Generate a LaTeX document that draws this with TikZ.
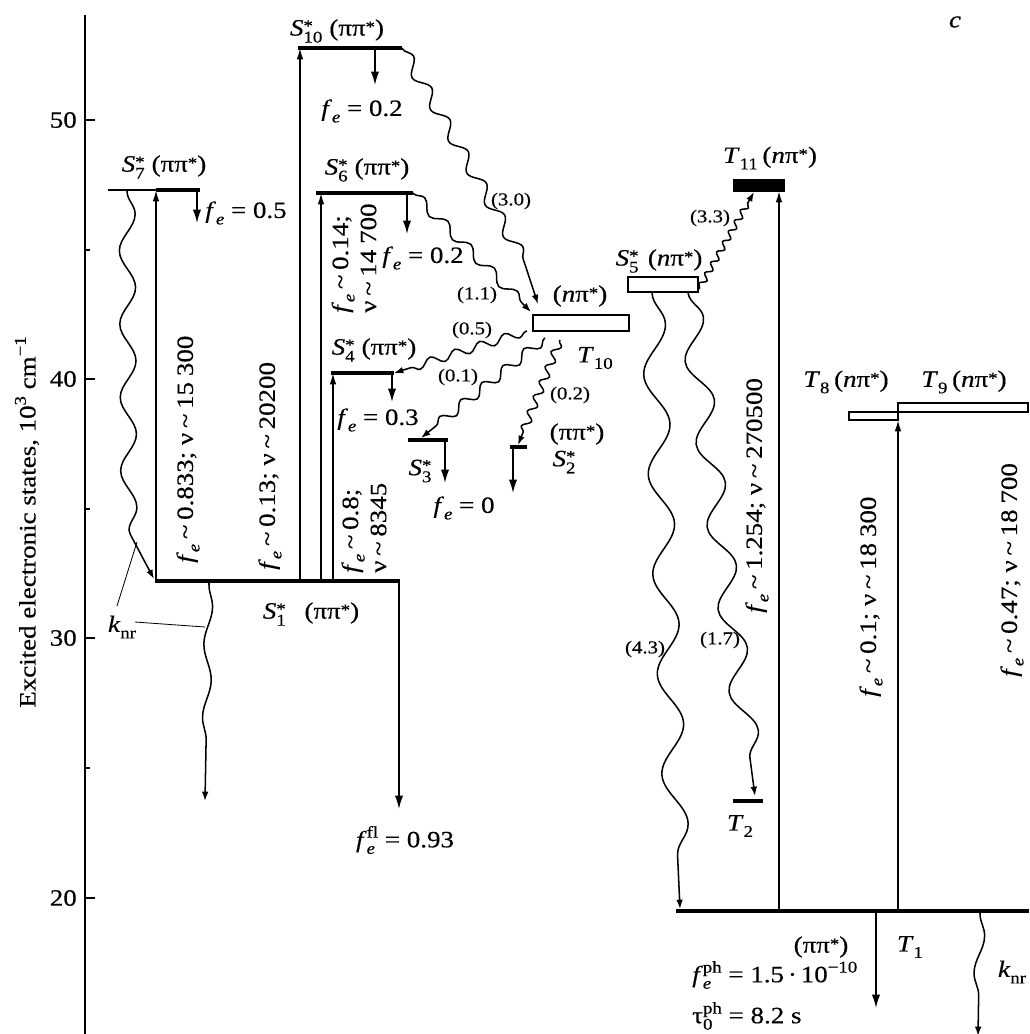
\documentclass[tikz,border=0pt]{standalone}
\usepackage{fontspec}
\setmainfont{Liberation Serif}[FakeStretch=1.15,FakeBold=0.4]
\usetikzlibrary{arrows.meta,decorations.pathmorphing}
\newcommand{\msz}{\fontsize{20}{24}\selectfont}
\newcommand{\ssz}{\fontsize{14}{14}\selectfont}
\newcommand{\smz}{\fontsize{15.5}{17}\selectfont}
\newcommand{\asz}{\fontsize{20}{22}\selectfont}
\newcommand{\lo}[1]{\raisebox{-0.6ex}{\ssz #1}}
\newcommand{\hi}[1]{\raisebox{0.9ex}{\ssz #1}}
\newsavebox\bxa
\newsavebox\bxb
\newcommand{\hilo}[2]{\sbox\bxa{\ssz #1}\sbox\bxb{\ssz #2}%
  \ifdim\wd\bxa>\wd\bxb\rlap{\raisebox{-0.6ex}{\usebox\bxb}}\raisebox{0.9ex}{\usebox\bxa}%
  \else\rlap{\raisebox{0.9ex}{\usebox\bxa}}\raisebox{-0.6ex}{\usebox\bxb}\fi}
\newcommand{\starsub}[1]{\rlap{\raisebox{0.4ex}{\ssz *}}\raisebox{-0.65ex}{\ssz #1}}
\newcommand{\Sst}[1]{\textit{S}\starsub{#1}}
\newcommand{\pst}{\raisebox{0.3ex}{\ssz *}}
\newcommand{\pp}{(ππ\pst)}
\newcommand{\np}{(\textit{n}π\pst)}
\newcommand{\fe}{\textit{f}\lo{\textit{e}}}
\newcommand{\sm}{\hspace{0.2em}\textasciitilde\hspace{0.2em}}
\newcommand{\tsp}{\hspace{0.25em}}
\tikzset{
  lev/.style={line width=2.9pt},
  thinlev/.style={line width=0.9pt},
  box/.style={line width=1.6pt, fill=white},
  arr/.style={line width=1.4pt, -{Latex[length=4mm,width=2.5mm]}},
  uparr/.style={line width=1.4pt, -{Latex[length=3.4mm,width=2mm]}},
  wv/.style 2 args={line width=1.3pt, -{Latex[length=2.8mm,width=2mm]}, decorate,
    decoration={snake, segment length=#1, amplitude=#2, pre length=1pt, post length=2.8mm}},
  lead/.style={line width=0.7pt},
  sml/.style={font=\smz},
  rot/.style={rotate=90, anchor=west, align=left},
}
\begin{document}
\begin{tikzpicture}[x=0.03cm, y=-0.03cm, every node/.style={inner sep=0pt, font=\msz}]
\useasboundingbox (0,0) rectangle (1029,1034);
% axis
\draw[line width=1.8pt] (85,15) -- (85,1034);
\foreach \yy in {120,379,638,898} \draw[line width=1.3pt] (85,\yy) -- (95,\yy);
\foreach \yy in {250,509,768} \draw[line width=1.3pt] (85,\yy) -- (90,\yy);
\node[anchor=east] (t50) at (77,120) {50};
\node[anchor=east] (t40) at (77,379) {40};
\node[anchor=east] (t30) at (77,638) {30};
\node[anchor=east] (t20) at (77,898) {20};
\node[rotate=90, font=\asz] (ax) at (27,522) {Excited electronic states, 10\hi{3} cm\hi{−1}};
\node (lc) at (955,22) {\textit{c}};

% coordinates of levels
\coordinate (s10l) at (298,48);  \coordinate (s10r) at (402,48);
\coordinate (s7t) at (108,190);  \coordinate (s7l) at (156,190); \coordinate (s7r) at (200,190);
\coordinate (s6l) at (316,193);  \coordinate (s6r) at (413,193);
\coordinate (s4l) at (331,373);  \coordinate (s4r) at (394,373);
\coordinate (s3l) at (408,440);  \coordinate (s3r) at (448,440);
\coordinate (s2l) at (510,447);  \coordinate (s2r) at (527,447);
\coordinate (s1l) at (155,581);  \coordinate (s1r) at (400,581);
\coordinate (t2l) at (733,801);  \coordinate (t2r) at (763,801);
\coordinate (t1l) at (676,911);  \coordinate (t1r) at (1029,911);

% levels
\draw[lev] (s10l) -- (s10r);
\draw[thinlev] (s7t) -- (s7l);
\draw[lev] (s7l) -- (s7r);
\draw[lev] (s6l) -- (s6r);
\draw[lev] (s4l) -- (s4r);
\draw[lev] (s3l) -- (s3r);
\draw[lev] (s2l) -- (s2r);
\draw[lev] (s1l) -- (s1r);
\draw[lev] (t2l) -- (t2r);
\draw[lev] (t1l) -- (t1r);
\node[box, draw, minimum width=96*0.03cm, minimum height=16*0.03cm] (t10) at (581,323) {};
\node[box, draw, minimum width=70*0.03cm, minimum height=15*0.03cm] (s5) at (663,284.5) {};
\node[draw, fill=black, line width=1pt, minimum width=50*0.03cm, minimum height=11*0.03cm] (t11) at (759,185.5) {};
\node[box, draw, minimum width=49*0.03cm, minimum height=8*0.03cm] (t8) at (873.5,416) {};
\node[box, draw, minimum width=130*0.03cm, minimum height=9*0.03cm] (t9) at (963,407.5) {};

% upward absorption arrows
\coordinate (u7b) at (156,581);  \coordinate (u7t) at (156,190);
\coordinate (u10b) at (300,581); \coordinate (u10t) at (300,48);
\coordinate (u6b) at (321,581);  \coordinate (u6t) at (321,193);
\coordinate (u4b) at (333,581);  \coordinate (u4t) at (333,373);
\coordinate (u11b) at (779,911); \coordinate (u11t) at (779,191);
\coordinate (u8b) at (898,911);  \coordinate (u8t) at (898,420);
\draw[uparr] (u7b) -- (u7t);
\draw[uparr] (u10b) -- (u10t);
\draw[uparr] (u6b) -- (u6t);
\draw[uparr] (u4b) -- (u4t);
\draw[uparr] (u11b) -- (u11t);
\draw[uparr] (u8b) -- (u8t);

% downward arrows
\coordinate (d7a) at (197,190);  \coordinate (d7b) at (197,223);
\coordinate (d10a) at (375,48);  \coordinate (d10b) at (375,85);
\coordinate (d6a) at (407,193);  \coordinate (d6b) at (407,234);
\coordinate (d4a) at (392,373);  \coordinate (d4b) at (392,402);
\coordinate (d3a) at (445,440);  \coordinate (d3b) at (445,483);
\coordinate (d2a) at (513,447);  \coordinate (d2b) at (513,493);
\coordinate (d1a) at (399,581);  \coordinate (d1b) at (399,809);
\coordinate (dpa) at (876,911);  \coordinate (dpb) at (876,1008);
\draw[arr] (d7a) -- (d7b);
\draw[arr] (d10a) -- (d10b);
\draw[arr] (d6a) -- (d6b);
\draw[arr] (d4a) -- (d4b);
\draw[arr] (d3a) -- (d3b);
\draw[arr] (d2a) -- (d2b);
\draw[arr] (d1a) -- (d1b);
\draw[arr] (dpa) -- (dpb);

% wavy transitions
\coordinate (w7a) at (127,190);   \coordinate (w7m) at (129,528);  \coordinate (w7b) at (154,579);
\draw[wv={22mm}{2.4mm}, decoration={post length=15mm}] (w7a) -- (w7m) .. controls (134,552) and (141,560) .. (w7b);
\coordinate (w1a) at (209,583);   \coordinate (w1b) at (205,801);
\draw[wv={22mm}{1.2mm}, decoration={post length=12mm}] (w1a) -- (w1b);
\coordinate (w30m) at (527,266);  \coordinate (w30b) at (538,304);
\draw[wv={11mm}{1.8mm}, decoration={post length=12mm}] (s10r) -- (w30m) .. controls (546,280) and (549,295) .. (w30b);
\coordinate (w11b) at (531,312);
\draw[wv={9.9mm}{1.5mm}] (s6r) -- (w11b);
\coordinate (w05a) at (527,331);
\draw[wv={7.8mm}{1.3mm}] (w05a) -- (s4r);
\coordinate (w01a) at (545,338);  \coordinate (w01b) at (421,438);
\draw[wv={8.1mm}{1.5mm}] (w01a) -- (w01b);
\coordinate (w02a) at (560,340);  \coordinate (w02b) at (518,445);
\draw[wv={4.8mm}{1.2mm}] (w02a) -- (w02b);
\coordinate (w33a) at (699,289);  \coordinate (w33b) at (754,192);
\draw[wv={3.6mm}{0.9mm}] (w33a) -- (w33b);
\coordinate (w43a) at (652,292);  \coordinate (w43b) at (680,909);
\draw[wv={30mm}{3.6mm}, decoration={post length=6mm}] (w43a) -- (w43b);
\coordinate (w17a) at (688,292);  \coordinate (w17b) at (755,796);
\draw[wv={25mm}{3.6mm}, decoration={post length=6mm}] (w17a) -- (w17b);
\coordinate (wka) at (980,912);   \coordinate (wkb) at (978,1036);
\draw[wv={22mm}{1.5mm}, decoration={post length=4mm}] (wka) -- (wkb);

% k_nr leaders
\node (knr1) at (122,627) {\textit{k}\lo{nr}};
\node (knr2) at (1012,972) {\textit{k}\lo{nr}};
\coordinate (kl1) at (117,606); \coordinate (kl2) at (137,542);
\coordinate (kl3) at (135,622); \coordinate (kl4) at (205,627);
\draw[lead] (kl1) -- (kl2);
\draw[lead] (kl3) -- (kl4);

% labels
\node (ls10) at (337,31) {\Sst{10}\hspace{0.3em}\pp};
\node (lf10) at (362,111) {\fe{} = 0.2};
\node (ls7) at (164,167) {\Sst{7}\hspace{0.3em}\pp};
\node (lf7) at (246,213) {\fe{} = 0.5};
\node (ls6) at (367,170) {\Sst{6}\hspace{0.3em}\pp};
\node (lf6) at (423,258) {\fe{} = 0.2};
\node (ls4) at (374,350) {\Sst{4}\hspace{0.3em}\pp};
\node (lf4) at (378,420) {\fe{} = 0.3};
\node (ls3) at (420,471) {\Sst{3}};
\node (lf3) at (464,508) {\fe{} = 0};
\node (lp2) at (577,434) {\pp};
\node (ls2) at (564,462) {\Sst{2}};
\node (ls1) at (311,614) {\Sst{1}\hspace{0.8em}\pp};
\node (lfl) at (405,840) {\textit{f}\hilo{f\kern0pt l}{\textit{e}} = 0.93};
\node (lnp10) at (580,296) {\np};
\node (lt10) at (595,358) {\textit{T}\lo{10}};
\node (ls5) at (659,261) {\Sst{5}\hspace{0.4em}\np};
\node (lt11) at (770,158) {\textit{T}\lo{11}\hspace{0.2em}\np};
\node (lt8) at (846,382) {\textit{T}\lo{8}\hspace{0.2em}\np};
\node (lt9) at (964,382) {\textit{T}\lo{9}\hspace{0.2em}\np};
\node (lt2) at (740,826) {\textit{T}\lo{2}};
\node (lpt1) at (821,947) {\pp};
\node (lt1) at (910,947) {\textit{T}\lo{1}};
\node[anchor=west] (lfph) at (692,975) {\textit{f}\hilo{ph}{\textit{e}} = 1.5\,·\,10\hi{−10}};
\node[anchor=west] (ltau) at (692,1016) {τ\hilo{ph}{0} = 8.2 s};

% rotated labels
\node[rot] (r7) at (188,563) {\fe\sm0.833; ν\sm15\tsp300};
\node[rot] (r10) at (270,570) {\fe\sm0.13; ν\sm20200};
\node[rot] (r6) at (354,313) {\fe\sm0.14;\\ν\sm14\tsp700};
\node[rot] (r4) at (364,573) {\fe\sm0.8;\\ν\sm8345};
\node[rot] (r11) at (757,613) {\fe\sm1.254; ν\sm270500};
\node[rot] (r8) at (871,697) {\fe\sm0.1; ν\sm18\tsp300};
\node[rot] (r9) at (1012,677) {\fe\sm0.47; ν\sm18\tsp700};

% small rate labels
\node[sml] (k30) at (511,201) {(3.0)};
\node[sml] (k11) at (477,295) {(1.1)};
\node[sml] (k05) at (472,330) {(0.5)};
\node[sml] (k01) at (458,377) {(0.1)};
\node[sml] (k02) at (570,395) {(0.2)};
\node[sml] (k33) at (710,218) {(3.3)};
\node[sml] (k43) at (645,649) {(4.3)};
\node[sml] (k17) at (720,640) {(1.7)};
\end{tikzpicture}
\end{document}
